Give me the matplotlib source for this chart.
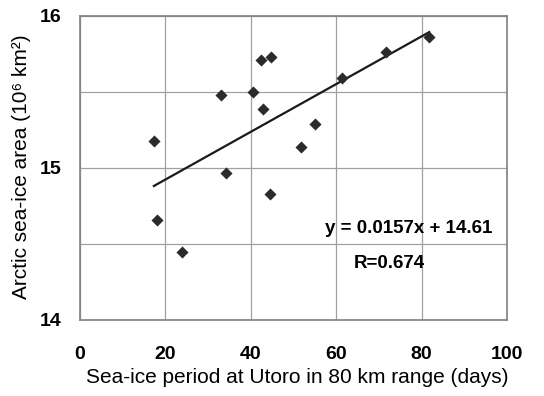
import matplotlib

matplotlib.use("Agg")
import matplotlib.pyplot as plt
import numpy as np

plt.rcParams["font.family"] = ["Liberation Sans", "DejaVu Sans"]

# sea-ice period at Utoro (days) vs Arctic sea-ice area (10^6 km^2)
days = [17.3, 18.1, 24.0, 33.0, 34.3, 40.4, 42.3, 42.8, 44.5, 44.7,
        51.8, 55.1, 61.4, 71.7, 81.8]
area = [15.18, 14.66, 14.45, 15.48, 14.97, 15.50, 15.71, 15.39, 14.83, 15.73,
        15.14, 15.29, 15.59, 15.76, 15.86]
slope = 0.0157
intercept = 14.61

fig = plt.figure(figsize=(5.44, 3.96), dpi=100)
ax = fig.add_axes([80 / 544, 1 - 320 / 396, 427 / 544, 304 / 396])

ax.scatter(days, area, marker="D", s=38, color="#2b2b2b", zorder=3, linewidths=0)
xfit = np.array([min(days), max(days)])
ax.plot(xfit, slope * xfit + intercept, color="#1a1a1a", lw=1.6, zorder=2)

ax.set_xlim(0, 100)
ax.set_ylim(14, 16)
ax.set_xticks([0, 20, 40, 60, 80, 100])
ax.set_yticks([14, 15, 16])
ax.set_yticks([14.5, 15.5], minor=True)
ax.grid(True, which="both", color="#a0a0a0", lw=0.9)
ax.set_axisbelow(True)
for spine in ax.spines.values():
    spine.set_color("#808080")
    spine.set_linewidth(1.2)
ax.tick_params(axis="both", which="both", length=0, labelsize=14)
ax.tick_params(axis="x", pad=19)
ax.tick_params(axis="y", pad=13)
for lab in ax.get_xticklabels() + ax.get_yticklabels():
    lab.set_fontweight("bold")

ax.set_xlabel("Sea-ice period at Utoro in 80 km range (days)", fontsize=15,
              va="center")
ax.xaxis.set_label_coords(0.509, -0.19)
ax.set_ylabel("Arctic sea-ice area (10⁶ km²)", fontsize=15, va="center")
ax.yaxis.set_label_coords(-0.136, 0.503)

ax.text(77.0, 14.605, "y = 0.0157x + 14.61", fontsize=13.5, fontweight="bold",
        ha="center", va="center")
ax.text(72.4, 14.375, "R=0.674", fontsize=13.5, fontweight="bold",
        ha="center", va="center")

fig.savefig("out.png", dpi=100)
